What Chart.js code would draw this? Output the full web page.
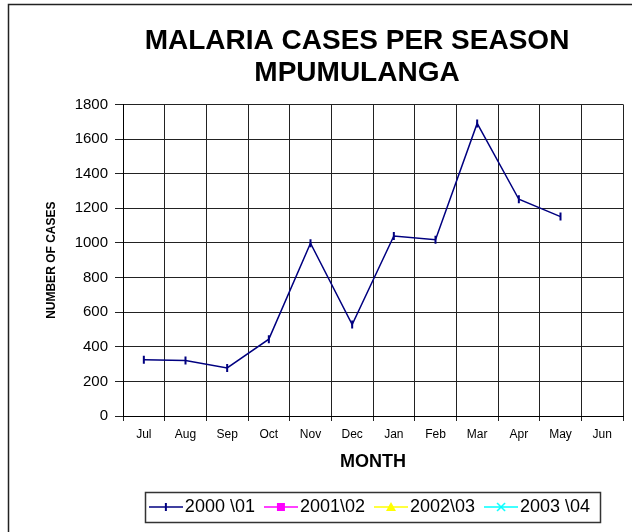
<!DOCTYPE html>
<html>
<head>
<meta charset="utf-8">
<script src="https://cdn.jsdelivr.net/npm/chart.js@4/dist/chart.umd.min.js"></script>
<style>
html, body { margin: 0; padding: 0; overflow: hidden; background: #fff; }
#wrap { width: 632px; height: 532px; overflow: hidden; position: relative; }
canvas { display: block; }
</style>
</head>
<body>
<div id="wrap"><canvas id="c" width="714" height="560"></canvas></div>
<script>
// ---- data ----
const months = ['Jul', 'Aug', 'Sep', 'Oct', 'Nov', 'Dec', 'Jan', 'Feb', 'Mar', 'Apr', 'May', 'Jun'];
const season2000_01 = [325, 320, 278, 444, 998, 528, 1040, 1018, 1690, 1252, 1152, null];
const season2001_02 = [];
const season2002_03 = [];
const season2003_04 = [];
const seriesNames = ['2000 \\01', '2001\\02', '2002\\03', '2003 \\04'];
const titleLines = ['MALARIA CASES PER SEASON', 'MPUMULANGA'];
const yAxisTitle = 'NUMBER OF CASES';
const xAxisTitle = 'MONTH';
const yMin = 0, yMax = 1800, yStep = 200;

const FONT = "'Liberation Sans', Arial, Helvetica, sans-serif";

function makeIcon(color, kind) {
  const cv = document.createElement('canvas');
  cv.width = 34; cv.height = 14;
  const g = cv.getContext('2d');
  g.strokeStyle = color; g.fillStyle = color; g.lineWidth = 1.5;
  g.beginPath(); g.moveTo(0, 7); g.lineTo(34, 7); g.stroke();
  const cx = 17, cy = 7;
  if (kind === 'bar') {
    g.lineWidth = 2; g.beginPath(); g.moveTo(cx, cy - 4); g.lineTo(cx, cy + 4); g.stroke();
  } else if (kind === 'rect') {
    g.fillRect(cx - 4, cy - 4, 8, 8);
  } else if (kind === 'tri') {
    g.beginPath(); g.moveTo(cx, cy - 5); g.lineTo(cx + 5, cy + 4); g.lineTo(cx - 5, cy + 4); g.closePath(); g.fill();
  } else if (kind === 'x') {
    g.lineWidth = 1.5; g.beginPath();
    g.moveTo(cx - 4, cy - 4); g.lineTo(cx + 4, cy + 4);
    g.moveTo(cx + 4, cy - 4); g.lineTo(cx - 4, cy + 4); g.stroke();
  }
  return cv;
}

const styles = [
  { color: '#000080', kind: 'bar', pointStyle: 'line', rotation: 90 },
  { color: '#FF00FF', kind: 'rect', pointStyle: 'rect', rotation: 0 },
  { color: '#FFFF00', kind: 'tri', pointStyle: 'triangle', rotation: 0 },
  { color: '#00FFFF', kind: 'x', pointStyle: 'crossRot', rotation: 0 }
];
const seriesData = [season2000_01, season2001_02, season2002_03, season2003_04];

const datasets = seriesData.map((d, i) => ({
  label: seriesNames[i],
  data: d,
  borderColor: styles[i].color,
  backgroundColor: styles[i].color,
  borderWidth: 1.5,
  pointStyle: styles[i].pointStyle,
  rotation: styles[i].rotation,
  pointRadius: 4,
  pointBorderWidth: 2,
  pointBorderColor: styles[i].color,
  pointBackgroundColor: styles[i].color,
  tension: 0,
  spanGaps: false
}));

const framePlugin = {
  id: 'frame',
  beforeDraw(chart) {
    const ctx = chart.ctx;
    ctx.save();
    ctx.fillStyle = '#fff';
    ctx.fillRect(0, 0, chart.width, chart.height);
    ctx.strokeStyle = '#222';
    ctx.lineWidth = 1.5;
    ctx.beginPath();
    ctx.moveTo(8.5, chart.height);
    ctx.lineTo(8.5, 4.5);
    ctx.lineTo(chart.width, 4.5);
    ctx.stroke();
    ctx.restore();
  },
  afterDraw(chart) {
    const lg = chart.legend;
    if (!lg || !lg.legendHitBoxes || !lg.legendHitBoxes.length) return;
    const hb = lg.legendHitBoxes;
    let l = Infinity, r = -Infinity, t = Infinity, b = -Infinity;
    hb.forEach(h => {
      l = Math.min(l, h.left); r = Math.max(r, h.left + h.width);
      t = Math.min(t, h.top); b = Math.max(b, h.top + h.height);
    });
    const ctx = chart.ctx;
    ctx.save();
    ctx.strokeStyle = '#333';
    ctx.lineWidth = 1.5;
    ctx.strokeRect(Math.round(l - 11) + 0.5, Math.round(t - 6) + 0.5, Math.round(r - l + 21), Math.round(b - t + 12));
    ctx.restore();
  }
};

new Chart(document.getElementById('c'), {
  type: 'line',
  data: { labels: months, datasets: datasets },
  plugins: [framePlugin],
  options: {
    responsive: false,
    animation: false,
    devicePixelRatio: 1,
    layout: { padding: { left: 0, right: 0, top: 0, bottom: 34 } },
    plugins: {
      tooltip: { enabled: false },
      title: {
        display: true,
        text: titleLines,
        color: '#000',
        font: { family: FONT, size: 28, weight: 'bold', lineHeight: 1.15 },
        padding: { top: 25, bottom: 15 }
      },
      legend: {
        display: true,
        position: 'bottom',
        fullSize: false,
        labels: {
          usePointStyle: true,
          pointStyleWidth: 20,
          padding: 16,
          color: '#000',
          font: { family: FONT, size: 18 },
          generateLabels(chart) {
            return chart.data.datasets.map((ds, i) => ({
              text: ds.label,
              pointStyle: makeIcon(styles[i].color, styles[i].kind),
              fillStyle: 'rgba(0,0,0,0)',
              strokeStyle: 'rgba(0,0,0,0)',
              lineWidth: 0,
              hidden: false,
              datasetIndex: i,
              fontColor: '#000'
            }));
          }
        }
      }
    },
    scales: {
      x: {
        type: 'category',
        offset: true,
        grid: { offset: true, color: '#222', lineWidth: 1, tickLength: 5, drawTicks: true },
        border: { display: true, color: '#000', width: 1 },
        ticks: { color: '#000', font: { family: FONT, size: 12 }, padding: 6, maxRotation: 0, autoSkip: false },
        title: { display: true, text: xAxisTitle, color: '#000', font: { family: FONT, size: 18, weight: 'bold' }, padding: { top: 0, bottom: 9.5 } },
        afterFit(s) { s.height = 66; }
      },
      y: {
        min: yMin, max: yMax,
        grid: { color: '#222', lineWidth: 1, tickLength: 8 },
        border: { display: true, color: '#000', width: 1 },
        ticks: { stepSize: yStep, color: '#000', font: { family: FONT, size: 15 }, padding: 7, callback: v => String(v) },
        title: { display: true, text: yAxisTitle, color: '#000', font: { family: FONT, size: 12, weight: 'bold' }, padding: { top: 44, bottom: 0 } },
        afterFit(s) { s.width = 123; }
      },
      yRight: {
        position: 'right',
        min: yMin, max: yMax,
        grid: { display: false, drawOnChartArea: false },
        border: { display: false },
        ticks: { display: false },
        afterFit(s) { s.width = 91; }
      }
    }
  }
});
</script>
</body>
</html>
